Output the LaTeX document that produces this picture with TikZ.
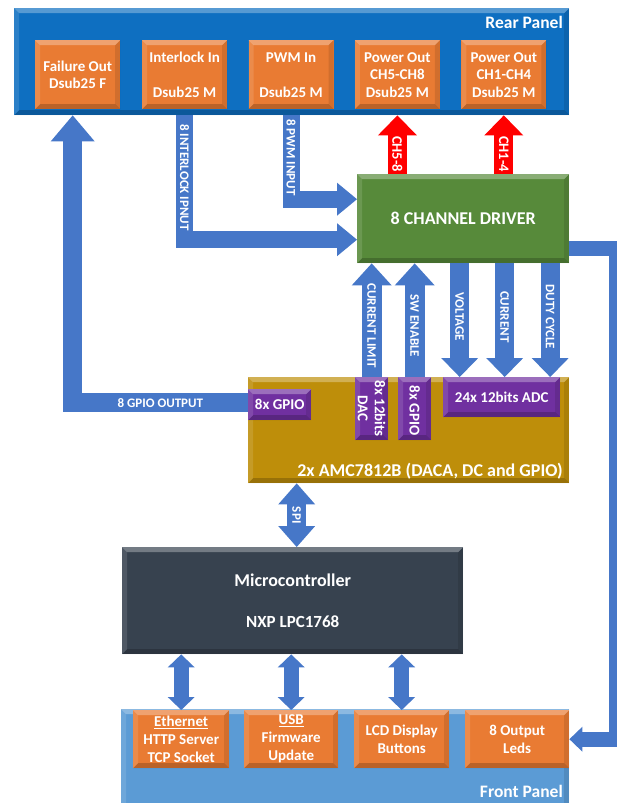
\documentclass[tikz,border=0pt]{standalone}
\usepackage{fontspec}
\setmainfont{Carlito}
\usetikzlibrary{arrows.meta,positioning}

\definecolor{azulrear}{HTML}{0E6FC1}
\definecolor{azulfront}{HTML}{5B9BD5}
\definecolor{naranja}{HTML}{E97B33}
\definecolor{azulbus}{HTML}{4677C8}
\definecolor{verde}{HTML}{578A3A}
\definecolor{oro}{HTML}{BE8E0A}
\definecolor{morado}{HTML}{7030A0}
\definecolor{pizarra}{HTML}{37424F}

\begin{document}
\begin{tikzpicture}[x=1pt,y=-1pt,
  every node/.style={text=white,inner sep=0pt},
  bisel/.style={path picture={
    \fill[white,opacity=.3] (path picture bounding box.north west) -- (path picture bounding box.north east)
      -- ([shift={(-5pt,-5pt)}]path picture bounding box.north east) -- ([shift={(5pt,-5pt)}]path picture bounding box.north west) -- cycle;
    \fill[white,opacity=.12] (path picture bounding box.north west) -- (path picture bounding box.south west)
      -- ([shift={(5pt,5pt)}]path picture bounding box.south west) -- ([shift={(5pt,-5pt)}]path picture bounding box.north west) -- cycle;
    \fill[black,opacity=.2] (path picture bounding box.south west) -- (path picture bounding box.south east)
      -- ([shift={(-5pt,5pt)}]path picture bounding box.south east) -- ([shift={(5pt,5pt)}]path picture bounding box.south west) -- cycle;
    \fill[black,opacity=.1] (path picture bounding box.north east) -- (path picture bounding box.south east)
      -- ([shift={(-5pt,5pt)}]path picture bounding box.south east) -- ([shift={(-5pt,-5pt)}]path picture bounding box.north east) -- cycle;}},
  caja/.style={bisel,anchor=north west,fill=naranja,minimum width=85pt,minimum height=69pt,align=center,font=\fontsize{15}{17.5}\selectfont\bfseries},
  cajab/.style={caja,minimum height=58pt,font=\fontsize{15}{18}\selectfont\bfseries},
  chip/.style={bisel,anchor=north west,fill=morado,align=center,font=\fontsize{15}{17}\selectfont\bfseries},
  bloque/.style={bisel,anchor=north west,align=center,font=\fontsize{18}{21}\selectfont\bfseries},
  etiq/.style={anchor=base east,font=\fontsize{17.5}{20}\selectfont\bfseries},
  bus/.style={draw=azulbus,line width=#1,line join=miter},
  rojo/.style={draw=red,line width=19pt},
  rot/.style={rotate=-90,font=\fontsize{13}{15}\selectfont\bfseries}
  ]

  \useasboundingbox (0,0) rectangle (616,803);

  % paneles
  \node[bisel,anchor=north west,fill=azulrear,minimum width=555pt,minimum height=107pt] (rear) at (14,8) {};
  \node[etiq] (reartx) at (563,28) {Rear Panel};
  \node[bisel,anchor=north west,fill=azulfront,minimum width=448pt,minimum height=100pt] (front) at (121,709) {};
  \node[etiq] (fronttx) at (563,797) {Front Panel};

  % conectores traseros
  \node[caja] (fail) at (35,40) {Failure Out\\Dsub25 F};
  \node[caja,right=21.5pt of fail] (intl) {Interlock In\\\mbox{}\\Dsub25 M};
  \node[caja,right=21pt of intl] (pwm) {PWM In\\\mbox{}\\Dsub25 M};
  \node[caja,right=21pt of pwm] (p58) {Power Out\\CH5-CH8\\Dsub25 M};
  \node[caja,right=21pt of p58] (p14) {Power Out\\CH1-CH4\\Dsub25 M};

  % bloques
  \node[bloque,fill=verde,minimum width=212pt,minimum height=89pt] (drv) at (357,174) {8 CHANNEL DRIVER};
  \node[bisel,anchor=north west,fill=oro,minimum width=321pt,minimum height=106pt] (amc) at (248,377) {};
  \node[etiq,font=\fontsize{18}{21}\selectfont\bfseries] (amctx) at (563,476) {2x AMC7812B (DACA, DC and GPIO)};
  \node[chip,minimum width=63pt,minimum height=31pt] (gpo) at (248,389) {8x GPIO};
  \node[chip,minimum width=33pt,minimum height=63pt] (dac) at (355,377) {};
  \node[rot,align=center,font=\fontsize{15}{17}\selectfont\bfseries] (dactx) at (dac.center) {8x 12bits\\DAC};
  \node[chip,minimum width=33pt,minimum height=63pt] (gpi) at (398,377) {};
  \node[rot,font=\fontsize{15}{17}\selectfont\bfseries] (gpitx) at ([yshift=-2pt]gpi.center) {8x GPIO};
  \node[chip,minimum width=117pt,minimum height=40pt] (adc) at (443,377) {24x 12bits ADC};
  \node[bloque,fill=pizarra,minimum width=341pt,minimum height=107pt] (mcu) at (122,547) {Microcontroller\\[20pt]{\fontsize{17}{20}\selectfont NXP LPC1768}};

  % panel frontal
  \node[cajab,minimum width=96pt] (eth) at (133,710) {\underline{Ethernet}\\HTTP Server\\TCP Socket};
  \node[cajab,minimum width=94pt] (usb) at (244,710) {\underline{USB}\\Firmware\\Update};
  \node[cajab,minimum width=95pt] (lcd) at (354,710) {LCD Display\\Buttons};
  \node[cajab,minimum width=104pt] (leds) at (465,710) {8 Output\\Leds};

  % salidas de potencia
  \draw[rojo,-{Triangle[length=20pt 0 0,width=39pt 0 0,line width=0pt 0 0]}] (p58.south |- drv.north) -- (p58.south |- rear.south)
    node[rot,pos=0.34,font=\fontsize{14.5}{16}\selectfont\bfseries] (ch58) {CH5-8};
  \draw[rojo,-{Triangle[length=20pt 0 0,width=39pt 0 0,line width=0pt 0 0]}] (p14.south |- drv.north) -- (p14.south |- rear.south)
    node[rot,pos=0.34,font=\fontsize{14.5}{16}\selectfont\bfseries] (ch14) {CH1-4};

  % entradas
  \draw[bus=17pt,-{Triangle[length=20pt 0 0,width=33pt 0 0,line width=0pt 0 0]}] (pwm.south |- rear.south) |- ([yshift=19.5pt]drv.west)
    node[rot,pos=0.25] (pwmtx) {8 PWM INPUT};
  \draw[bus=17pt,-{Triangle[length=20pt 0 0,width=33pt 0 0,line width=0pt 0 0]}] (intl.south |- rear.south) |- ([yshift=-21pt]drv.west)
    node[rot,pos=0.25] (intltx) {8 INTERLOCK IPNUT};
  \draw[bus=19pt,-{Triangle[length=26pt 0 0,width=44pt 0 0,line width=0pt 0 0]}] ([yshift=2pt]gpo.west) -| ([xshift=-5pt]fail.south |- rear.south)
    node[pos=0.25,font=\fontsize{13}{15}\selectfont\bfseries] (gpotx) {8 GPIO OUTPUT};

  % driver <-> AMC
  \draw[bus=20pt,-{Triangle[length=22pt 0 0,width=40pt 0 0,line width=0pt 0 0]}] (dac.north) -- (dac.north |- drv.south)
    node[rot,pos=0.45] (limtx) {CURRENT LIMIT};
  \draw[bus=20pt,-{Triangle[length=22pt 0 0,width=40pt 0 0,line width=0pt 0 0]}] (gpi.north) -- (gpi.north |- drv.south)
    node[rot,pos=0.45] (swtx) {SW ENABLE};
  \draw[bus=19pt,-{Triangle[length=19pt 0 0,width=37pt 0 0,line width=0pt 0 0]}] ([xshift=-42pt]adc.north |- drv.south) -- ([xshift=-42pt]adc.north)
    node[rot,pos=0.47] (volttx) {VOLTAGE};
  \draw[bus=19pt,-{Triangle[length=19pt 0 0,width=37pt 0 0,line width=0pt 0 0]}] ([xshift=3pt]adc.north |- drv.south) -- ([xshift=3pt]adc.north)
    node[rot,pos=0.47] (curtx) {CURRENT};
  \draw[bus=19pt,-{Triangle[length=19pt 0 0,width=37pt 0 0,line width=0pt 0 0]}] ([xshift=48.5pt]adc.north |- drv.south) -- ([xshift=48.5pt]adc.north)
    node[rot,pos=0.47] (dutytx) {DUTY CYCLE};

  % SPI y frontal
  \draw[bus=19pt,{Triangle[length=21pt 0 0,width=37pt 0 0,line width=0pt 0 0]}-{Triangle[length=21pt 0 0,width=37pt 0 0,line width=0pt 0 0]}]
    ([xshift=4pt]mcu.north) -- ([xshift=4pt]mcu.north |- amc.south) node[rot,midway] (spitx) {SPI};
  \foreach \b in {eth,usb,lcd}
    \draw[bus=15pt,{Triangle[length=13pt 0 0,width=27pt 0 0,line width=0pt 0 0]}-{Triangle[length=13pt 0 0,width=27pt 0 0,line width=0pt 0 0]}]
      (\b.north) -- (\b.north |- mcu.south);
  \draw[bus=15pt,-{Triangle[length=13pt 0 0,width=25pt 0 0,line width=0pt 0 0]}] ([yshift=-30pt]drv.east) -- ++(47pt,0) |- (leds.east);

\end{tikzpicture}
\end{document}
